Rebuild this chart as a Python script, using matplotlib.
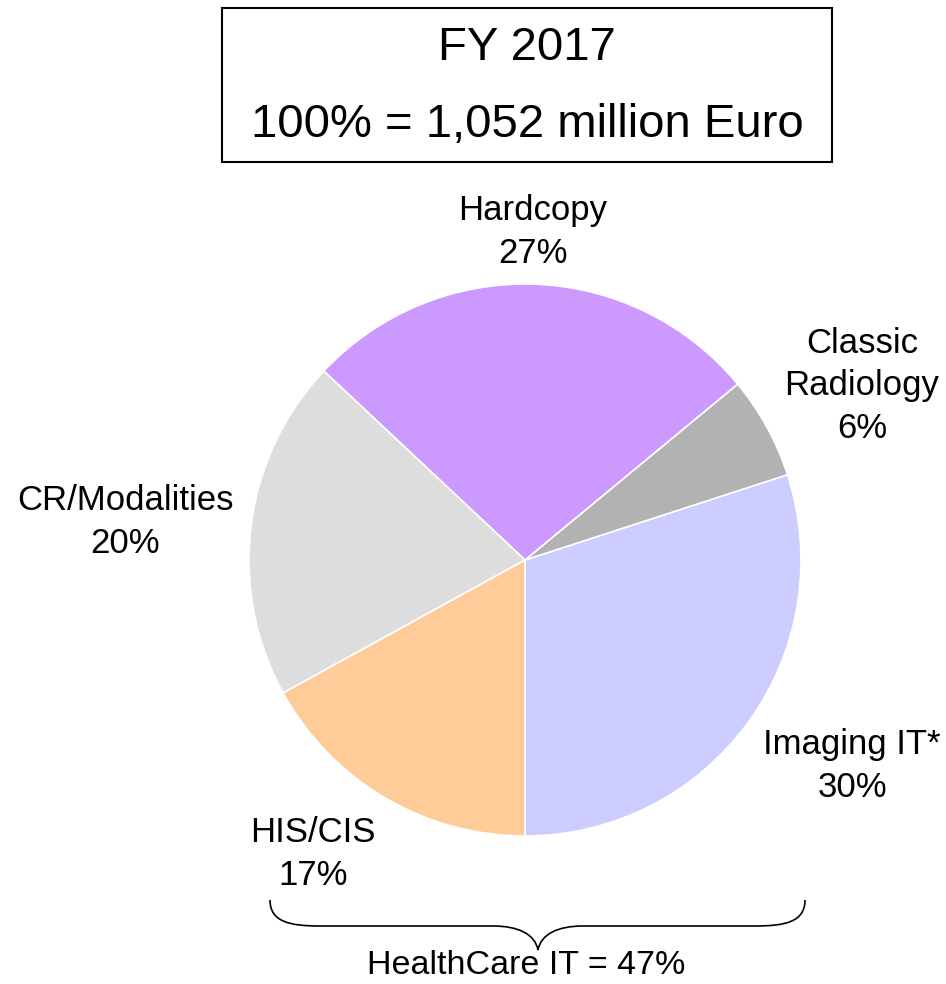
import matplotlib.pyplot as plt
from matplotlib.path import Path
from matplotlib.patches import PathPatch, Rectangle

plt.rcParams['font.family'] = ['Liberation Sans', 'DejaVu Sans']

# data (counterclockwise from the bottom)
segments = ["Imaging IT*", "Classic\nRadiology", "Hardcopy", "CR/Modalities", "HIS/CIS"]
shares = [30, 6, 27, 20, 17]
colors = ["#CCCCFF", "#B2B2B2", "#CC99FF", "#DDDDDD", "#FFCC99"]
title_lines = ["FY 2017", "100% = 1,052 million Euro"]
group_label = "HealthCare IT = 47%"

# label anchor points in pixel coords (x, y from top)
label_pos = [(852, 766), (862, 386), (533, 232), (125, 522), (313, 854)]

W, H = 946, 984
fig = plt.figure(figsize=(W / 100, H / 100), dpi=100)
ax = fig.add_axes([0, 0, 1, 1])

ax.pie(shares, colors=colors, startangle=270, counterclock=True,
       center=(525, H - 560), radius=276, frame=True,
       wedgeprops=dict(edgecolor='white', linewidth=1.2))
ax.set_xlim(0, W)
ax.set_ylim(0, H)
ax.set_aspect('equal')
ax.axis('off')

for name, share, (x, y) in zip(segments, shares, label_pos):
    ax.text(x, H - y, f"{name}\n{share}%", ha='center', va='center',
            fontsize=25, linespacing=1.38)

# title box
ax.add_patch(Rectangle((222, H - 162), 610, 154, fill=False,
                       edgecolor='black', linewidth=1.5))
ax.text(527, H - 48, title_lines[0], ha='center', va='center', fontsize=34)
ax.text(527, H - 125, title_lines[1], ha='center', va='center', fontsize=34)

# curly brace under HealthCare IT segments
xl, xr, xm = 270, 805, 538
yt, yb, ytip = H - 900, H - 926, H - 950
verts = [
    (xl, yt), (xl, yb + 4), (xl + 20, yb), (xl + 50, yb),
    (xm - 45, yb),
    (xm - 20, yb), (xm - 3, yb - 8), (xm, ytip),
    (xm + 3, yb - 8), (xm + 20, yb), (xm + 45, yb),
    (xr - 50, yb),
    (xr - 20, yb), (xr, yb + 4), (xr, yt),
]
codes = [Path.MOVETO, Path.CURVE4, Path.CURVE4, Path.CURVE4,
         Path.LINETO,
         Path.CURVE4, Path.CURVE4, Path.CURVE4,
         Path.CURVE4, Path.CURVE4, Path.CURVE4,
         Path.LINETO,
         Path.CURVE4, Path.CURVE4, Path.CURVE4]
ax.add_patch(PathPatch(Path(verts, codes), fill=False, edgecolor='black', linewidth=1.2))
ax.text(526, H - 966, group_label, ha='center', va='center', fontsize=24.5)

plt.savefig("out.png", dpi=100)
plt.close()
